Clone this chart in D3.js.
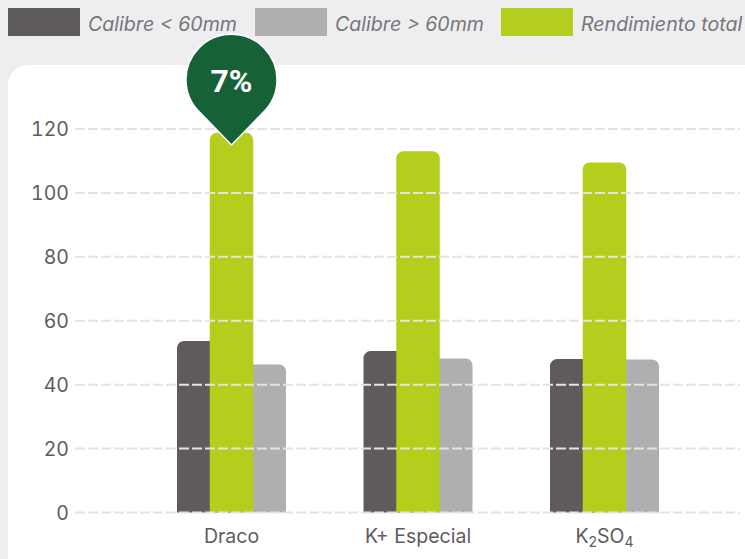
<!DOCTYPE html>
<html>
<head>
<meta charset="utf-8">
<script src="https://cdn.jsdelivr.net/npm/d3@7"></script>
<style>
    html, body { margin: 0; padding: 0; background: #eeeef0; overflow: hidden; }
    svg { display: block; }
    text { font-family: Inter, sans-serif; }
    .tick-label { font-variant-numeric: tabular-nums; }
    .legend-label { font-style: italic; }
    .pin-label { font-family: Roboto, sans-serif; font-weight: 700; }
</style>
</head>
<body>
<svg id="target"></svg>
<script>
// Chart data
const categories = ["Draco", "K+ Especial", "K2SO4"];
const calibreMenor = [53.7, 50.5, 48];
const rendimiento = [118.8, 113, 109.5];
const calibreMayor = [46.3, 48.2, 47.9];
const yTicks = [0, 20, 40, 60, 80, 100, 120];
const legendLabels = ["Calibre < 60mm", "Calibre > 60mm", "Rendimiento total"];
const pinLabel = "7%";

const colors = ["#5f5b5c", "#afafaf", "#b5cd1c"];

const width = 745, height = 559;

let svg = d3.select("#target")
    .attr("width", width)
    .attr("height", height);

// White panel, runs off the right and bottom edges
svg.append("path")
    .attr("d", "M8,559V85a20,20 0 0 1 20,-20H745V559Z")
    .attr("fill", "#fff");

// Scales
let y = d3.scaleLinear().domain([0, 120]).range([512.5, 129]);
let x = d3.scaleBand().domain(categories).range([138.25, 697.75]).padding(0);

// Y axis labels
svg.append("g")
    .selectAll("text")
    .data(yTicks)
    .enter()
    .append("text")
    .attr("class", "tick-label")
    .attr("x", 69)
    .attr("y", d => y(d) + 7)
    .attr("text-anchor", "end")
    .attr("font-size", 19.5)
    .attr("fill", "#5f5b5c")
    .text(d => d);

// X axis labels
let xLabels = svg.append("g")
    .selectAll("text")
    .data(categories)
    .enter()
    .append("text")
    .attr("x", d => x(d) + x.bandwidth() / 2)
    .attr("y", 543)
    .attr("text-anchor", "middle")
    .attr("font-size", 19.5)
    .attr("fill", "#5f5b5c");

xLabels.each(function(d) {
    // Chemical formula gets real subscripts
    let parts = d === "K2SO4" ? [["K", 0], ["2", 1], ["SO", 0], ["4", 1]] : [[d, 0]];
    let t = d3.select(this);
    parts.forEach(p => {
        t.append("tspan")
            .attr("font-size", p[1] ? 14 : 19.5)
            .attr("dy", p[1] ? 4 : (p[0] === "SO" ? -4 : 0))
            .text(p[0]);
    });
});

// Bars: narrow side bars first, wider centre bar on top
function topBar(px, pw, py, r) {
    return "M" + px + "," + y(0) + "V" + (py + r)
        + "a" + r + "," + r + " 0 0 1 " + r + "," + (-r)
        + "H" + (px + pw - r)
        + "a" + r + "," + r + " 0 0 1 " + r + "," + r
        + "V" + y(0) + "Z";
}

let sideWidth = 54, centerWidth = 43.5;

function addBars(values, color, offset, w) {
    svg.append("g")
        .selectAll("path")
        .data(values)
        .enter()
        .append("path")
        .attr("d", (d, i) => topBar(x(categories[i]) + x.bandwidth() / 2 + offset, w, y(d), 7))
        .attr("fill", color);
}

addBars(calibreMenor, colors[0], -54.5, sideWidth);
addBars(calibreMayor, colors[1], 0.5, sideWidth);
addBars(rendimiento, colors[2], -centerWidth / 2, centerWidth);

// Dashed grid lines on top of the bars
svg.append("g")
    .selectAll("line")
    .data(yTicks)
    .enter()
    .append("line")
    .attr("x1", 75)
    .attr("x2", 740)
    .attr("y1", d => y(d))
    .attr("y2", d => y(d))
    .attr("stroke", "#e6e3de")
    .attr("stroke-width", 2)
    .attr("stroke-dasharray", "10,3");

// Legend
let legendX = [8, 255, 501];
let legend = svg.append("g")
    .selectAll("g")
    .data(legendLabels)
    .enter()
    .append("g")
    .attr("transform", (d, i) => "translate(" + legendX[i] + ",8)");

legend.append("rect")
    .attr("width", 72)
    .attr("height", 28)
    .attr("fill", (d, i) => colors[i]);

legend.append("text")
    .attr("class", "legend-label")
    .attr("x", 80)
    .attr("y", 22.5)
    .attr("font-size", 19.6)
    .attr("fill", "#77777b")
    .text(d => d);

// Pin marker on top of the first centre bar
let pin = svg.append("g")
    .attr("transform", "translate(231.5,0)");

pin.append("path")
    .attr("d", "M0,145L-31,113A45.5,45.5 0 1 1 31,113Z")
    .attr("fill", "#166236")
    .attr("stroke", "#fff")
    .attr("stroke-width", 1.5);

pin.append("text")
    .attr("class", "pin-label")
    .attr("x", 0)
    .attr("y", 91.5)
    .attr("text-anchor", "middle")
    .attr("font-size", 32)
    .attr("fill", "#fff")
    .text(pinLabel);
</script>
</body>
</html>
